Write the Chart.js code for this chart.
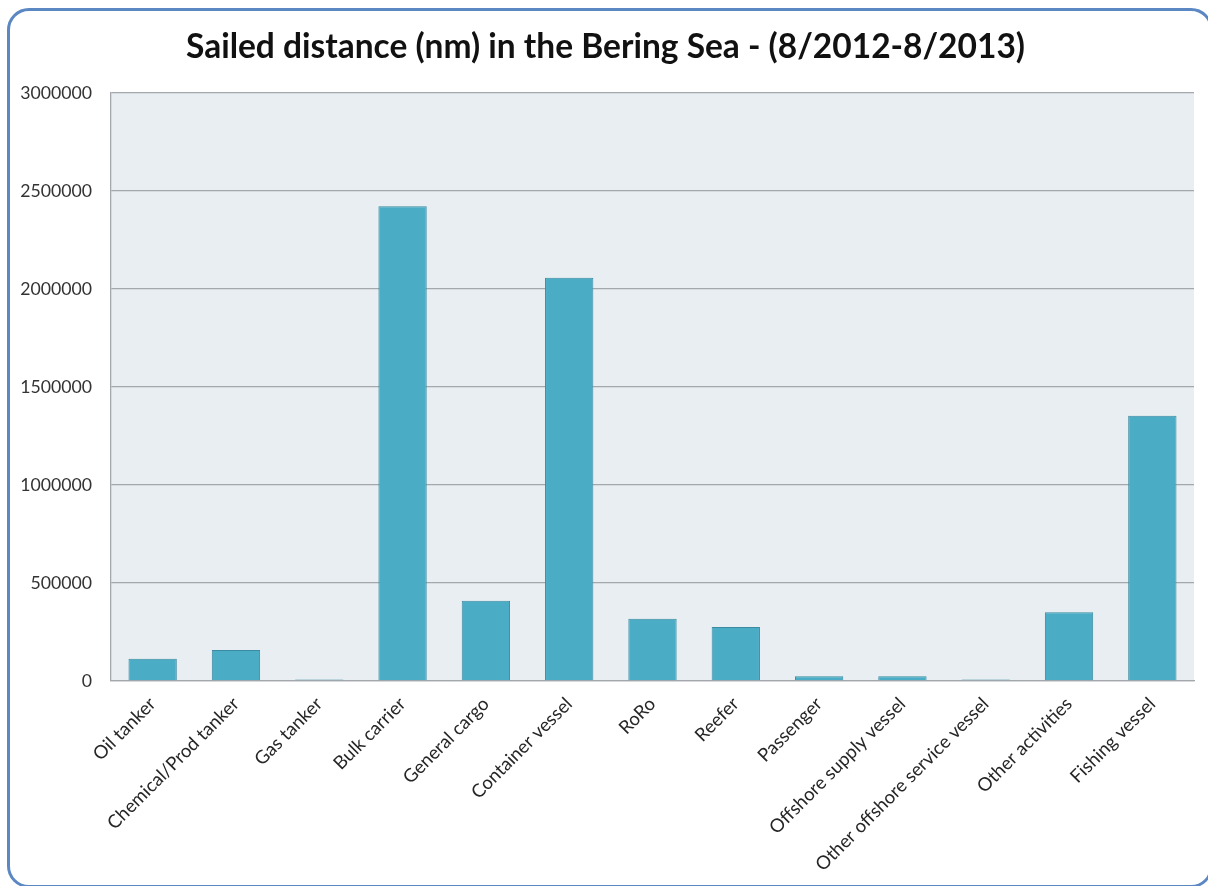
<!DOCTYPE html>
<html>
<head>
<meta charset="utf-8">
<script src="https://cdn.jsdelivr.net/npm/chart.js@4/dist/chart.umd.min.js"></script>
<style>
    html, body { margin: 0; padding: 0; background: #fff; overflow: hidden; }
    #frame {
        position: absolute; left: 7px; top: 8px; width: 1200px; height: 874px;
        border: 3px solid #5b87c3; border-radius: 22px; pointer-events: none;
    }
    #wrap { position: absolute; left: 0; top: 0; width: 1208px; height: 886px; }
</style>
</head>
<body>
<div id="wrap"><canvas id="myChart" width="1208" height="886"></canvas></div>
<div id="frame"></div>
<script>
// vessel categories and sailed distance (nm)
const vesselTypes = [
    'Oil tanker', 'Chemical/Prod tanker', 'Gas tanker', 'Bulk carrier', 'General cargo',
    'Container vessel', 'RoRo', 'Reefer', 'Passenger', 'Offshore supply vessel',
    'Other offshore service vessel', 'Other activities', 'Fishing vessel'
];
const sailedDistance = [
    113000, 158000, 8000, 2422000, 410000,
    2058000, 317000, 276000, 24000, 24000,
    8000, 351000, 1353000
];
const yTicks = [0, 500000, 1000000, 1500000, 2000000, 2500000, 3000000];

const plotBackground = {
    id: 'plotBackground',
    beforeDraw(chart) {
        const { ctx, chartArea } = chart;
        ctx.save();
        ctx.fillStyle = '#e9eef2';
        ctx.fillRect(chartArea.left, chartArea.top, chartArea.right - chartArea.left, chartArea.bottom - chartArea.top);
        ctx.restore();
    }
};

let ctx = document.getElementById('myChart').getContext('2d');
let distanceChart = new Chart(ctx, {
    type: 'bar',
    data: {
        labels: vesselTypes,
        datasets: [{
            label: 'Sailed distance (nm)',
            data: sailedDistance,
            backgroundColor: '#4bacc6',
            borderColor: '#3a8aa1',
            borderWidth: 1,
            barPercentage: 0.58,
            categoryPercentage: 1
        }]
    },
    options: {
        responsive: false,
        animation: false,
        layout: { padding: { left: 17, right: 14, top: 0, bottom: 0 } },
        plugins: {
            legend: { display: false },
            tooltip: { enabled: false },
            title: {
                display: true,
                text: 'Sailed distance (nm) in the Bering Sea - (8/2012-8/2013)',
                color: '#111',
                font: { family: 'Lato', size: 33.5, weight: 'bold' },
                padding: { top: 27, bottom: 25.8 }
            }
        },
        scales: {
            x: {
                grid: { display: false, drawTicks: false },
                border: { color: '#a4a8ac', width: 1.3 },
                ticks: {
                    color: '#262626',
                    font: { family: 'Lato', size: 18.5 },
                    maxRotation: 45, minRotation: 45,
                    padding: 12,
                    autoSkip: false
                },
                afterFit: s => { s.height = 205; }
            },
            y: {
                min: 0,
                max: 3000000,
                afterBuildTicks: s => { s.ticks = yTicks.map(v => ({ value: v })); },
                grid: { color: '#a4a8ac', lineWidth: 1.3, drawTicks: false },
                border: { color: '#a4a8ac', width: 1.3 },
                ticks: {
                    color: '#333',
                    font: { family: 'Lato', size: 17.7 },
                    padding: 19,
                    callback: v => String(v)
                },
                afterFit: s => { s.width = 94; }
            }
        }
    },
    plugins: [plotBackground]
});
</script>
</body>
</html>
